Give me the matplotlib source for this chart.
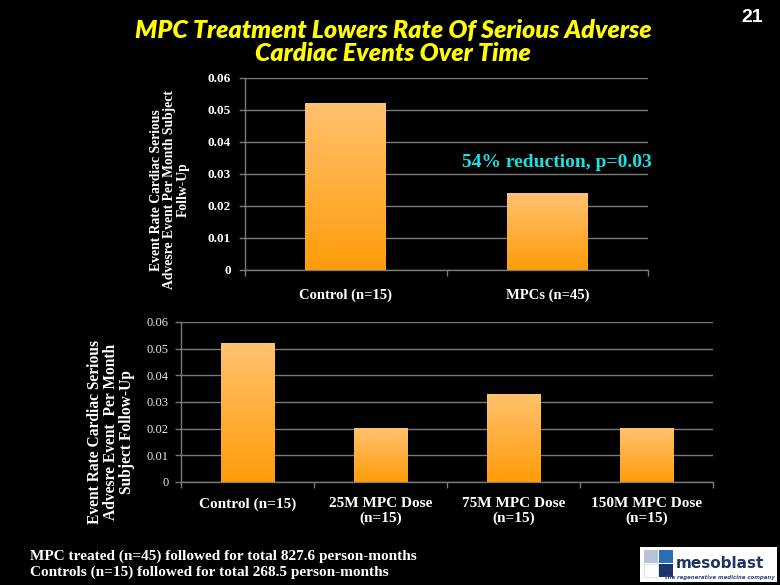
import numpy as np
import matplotlib
matplotlib.use("Agg")
import matplotlib.pyplot as plt
from matplotlib.patches import Rectangle
from matplotlib.colors import LinearSegmentedColormap

# ---- data ----
top_categories = ["Control (n=15)", "MPCs (n=45)"]
top_values = [0.052, 0.024]
bottom_categories = ["Control (n=15)", "25M MPC Dose\n(n=15)", "75M MPC Dose\n(n=15)", "150M MPC Dose\n(n=15)"]
bottom_values = [0.052, 0.020, 0.0328, 0.020]
yticks = [0, 0.01, 0.02, 0.03, 0.04, 0.05, 0.06]
ytick_labels = ["0", "0.01", "0.02", "0.03", "0.04", "0.05", "0.06"]

title = "MPC Treatment Lowers Rate Of Serious Adverse\nCardiac Events Over Time"
top_ylabel = "Event Rate Cardiac Serious\nAdvesre Event Per Month Subject\nFollw-Up"
bottom_ylabel = "Event Rate Cardiac Serious\nAdvesre Event  Per Month\nSubject Follow-Up"
annotation = "54% reduction, p=0.03"
footnote = "MPC treated (n=45) followed for total 827.6 person-months\nControls (n=15) followed for total 268.5 person-months"

SERIF = "Liberation Serif"
GRID = "#7a7a7a"
cmap = LinearSegmentedColormap.from_list("og", ["#ff9c0a", "#ffc26e"])

fig = plt.figure(figsize=(7.8, 5.85), dpi=100, facecolor="black")


def style_axes(ax, categories, values, tick_fs, tick_bold, tick_color, xlab_fs, xpad, ypad):
    ax.set_facecolor("black")
    x = np.arange(len(categories))
    bars = ax.bar(x, values, width=0.4, color="none", edgecolor="none", zorder=3)
    grad = np.linspace(0, 1, 256).reshape(-1, 1)
    for b in bars:
        x0, w, h = b.get_x(), b.get_width(), b.get_height()
        ax.imshow(grad, extent=(x0, x0 + w, 0, h), origin="lower", cmap=cmap,
                  aspect="auto", zorder=3, interpolation="bilinear")
    ax.set_xlim(-0.5, len(categories) - 0.5)
    ax.set_ylim(0, 0.06)
    ax.set_yticks(yticks)
    ax.set_yticklabels(ytick_labels, fontsize=tick_fs, family=SERIF,
                       fontweight="bold" if tick_bold else "normal", color=tick_color)
    ax.yaxis.grid(True, color=GRID, linewidth=1.0, zorder=0)
    ax.set_axisbelow(True)
    ax.set_xticks(x)
    ax.set_xticklabels(categories, fontsize=xlab_fs, family=SERIF, fontweight="bold",
                       color="white", linespacing=1.15)
    ax.tick_params(axis="x", length=0, pad=xpad)
    ax.set_xticks(np.arange(len(categories) + 1) - 0.5, minor=True)
    ax.tick_params(axis="x", which="minor", length=4, color=GRID, width=1)
    ax.tick_params(axis="y", length=4, color=GRID, width=1, pad=ypad)
    for s in ["top", "right"]:
        ax.spines[s].set_visible(False)
    for s in ["left", "bottom"]:
        ax.spines[s].set_color(GRID)
        ax.spines[s].set_linewidth(1.0)
    return ax


# top chart
ax1 = fig.add_axes([245 / 780, 1 - 270 / 585, 403 / 780, 192 / 585])
style_axes(ax1, top_categories, top_values, 9.5, True, "white", 10.5, 13, 6)
ax1.text(1.048, 0.0335, annotation, color="#1fe0e0", fontsize=14, family=SERIF,
         fontweight="bold", ha="center", va="center", zorder=4)

# bottom chart
ax2 = fig.add_axes([181 / 780, 1 - 482 / 585, 532 / 780, 160 / 585])
style_axes(ax2, bottom_categories, bottom_values, 9, False, "#e8e8e8", 11, 11, 5)

# y labels
fig.text(170 / 780, 1 - 190 / 585, top_ylabel, rotation=90, ha="center", va="center",
         color="white", fontsize=9.8, family=SERIF, fontweight="bold", linespacing=1.05,
         multialignment="center")
fig.text(111 / 780, 1 - 432 / 585, bottom_ylabel, rotation=90, ha="center", va="center",
         color="white", fontsize=11.2, family=SERIF, fontweight="bold", linespacing=1.0,
         multialignment="center")

# title
fig.text(393 / 780, 1 - 42 / 585, title, ha="center", va="center", color="#ffff00",
         fontsize=18, family="Lato", fontweight="heavy", style="italic",
         linespacing=1.05)
fig.text(752 / 780, 1 - 18 / 585, "21", ha="center", va="center", color="white",
         fontsize=14, family="Liberation Sans", fontweight="bold")

# footnote
fig.text(30 / 780, 1 - 564 / 585, footnote, ha="left", va="center", color="white",
         fontsize=11, family=SERIF, fontweight="bold", linespacing=1.2)

# logo
lax = fig.add_axes([640 / 780, 1 - 582 / 585, 137 / 780, 35 / 585])
lax.set_xlim(0, 137)
lax.set_ylim(0, 35)
lax.axis("off")
lax.add_patch(Rectangle((0, 0), 137, 35, facecolor="white", edgecolor="none"))
lax.add_patch(Rectangle((4, 19), 14, 13, facecolor="#b8c4d6", edgecolor="none"))
lax.add_patch(Rectangle((19, 19), 14, 13, facecolor="#2a6fb5", edgecolor="none"))
lax.add_patch(Rectangle((4, 5), 14, 13, facecolor="#ffffff", edgecolor="#d0d8e4", lw=0.5))
lax.add_patch(Rectangle((19, 5), 14, 13, facecolor="#1c3466", edgecolor="none"))
lax.text(36, 18, "mesoblast", fontsize=11, color="#1c3466", family="DejaVu Sans",
         fontweight="bold", va="center", ha="left")
lax.text(135, 4.5, "the regenerative medicine company", fontsize=3.9, color="#2a4a80",
         family="DejaVu Sans", style="italic", fontweight="bold", va="center", ha="right")

fig.savefig("out.png", dpi=100, facecolor="black")
